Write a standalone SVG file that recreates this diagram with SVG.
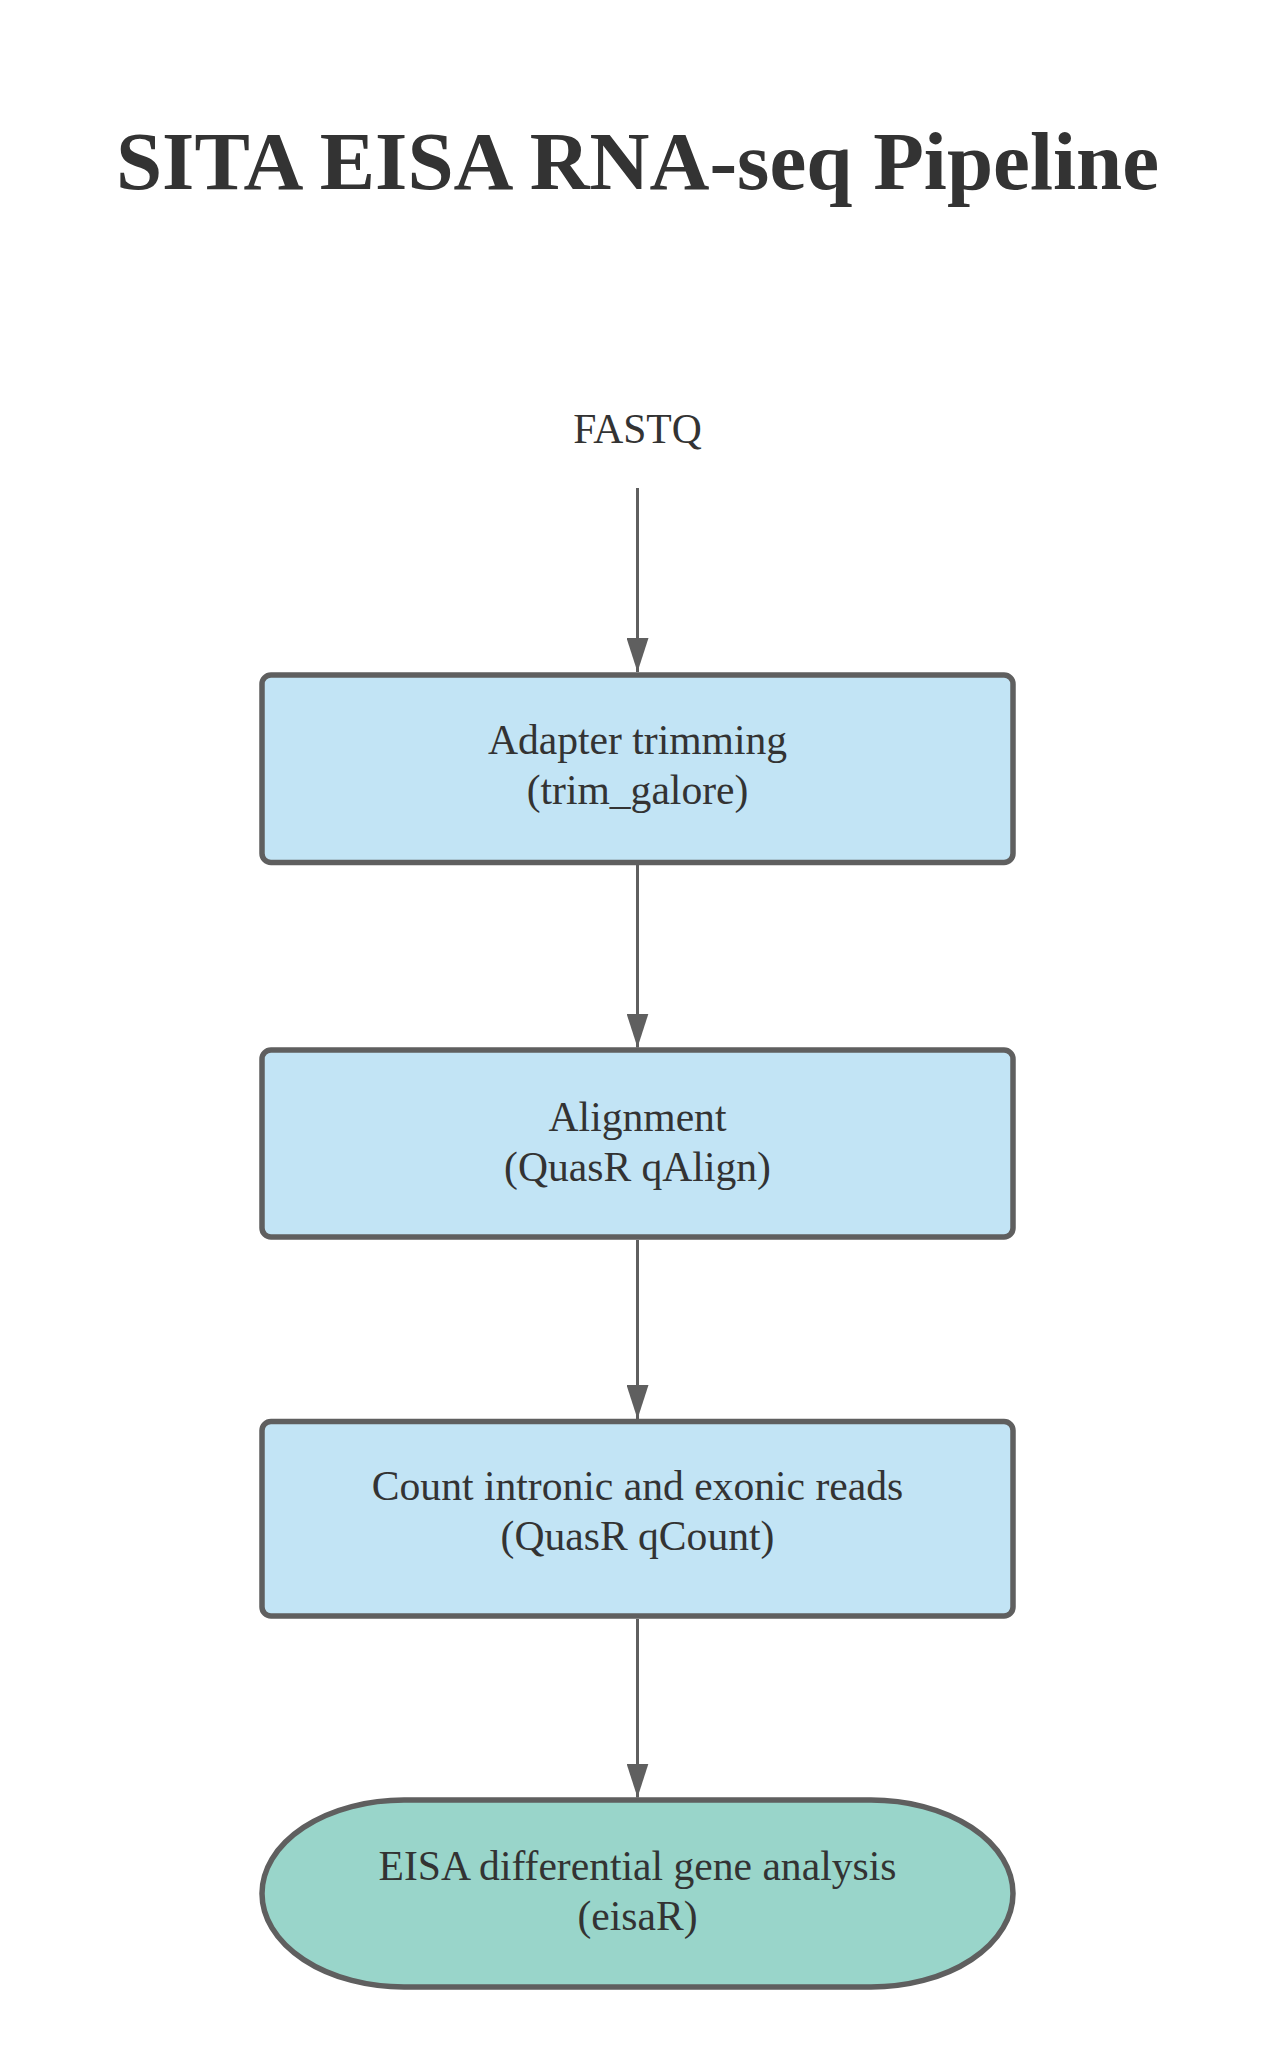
<svg xmlns="http://www.w3.org/2000/svg" width="1275" height="2063" viewBox="0 0 1275 2063">
  <defs>
    <marker id="arrow" markerUnits="userSpaceOnUse" markerWidth="34" markerHeight="22" refX="34" refY="11" orient="auto">
      <path d="M0,0 L34,11 L0,22 Z" fill="#5f5f5f"/>
    </marker>
  </defs>
  <style>
    .title { font-family: "Liberation Serif", "Times New Roman", serif; font-weight: bold; font-size: 83px; fill: #333333; text-anchor: middle; }
    .label { font-family: "Liberation Serif", "Times New Roman", serif; font-size: 41.6px; fill: #333333; text-anchor: middle; }
    .box { fill: #c2e4f5; stroke: #5f5f5f; stroke-width: 5.5; }
    .term { fill: #99d5ca; stroke: #5f5f5f; stroke-width: 5.5; }
    .edge { stroke: #5f5f5f; stroke-width: 3; fill: none; }
  </style>
  <rect width="1275" height="2063" fill="#ffffff"/>
  <text class="title" x="637.5" y="189">SITA EISA RNA-seq Pipeline</text>

  <g id="connectors">
    <line class="edge" x1="637.5" y1="488" x2="637.5" y2="672" marker-end="url(#arrow)"/>
    <line class="edge" x1="637.5" y1="865" x2="637.5" y2="1047.5" marker-end="url(#arrow)"/>
    <line class="edge" x1="637.5" y1="1240" x2="637.5" y2="1419" marker-end="url(#arrow)"/>
    <line class="edge" x1="637.5" y1="1619" x2="637.5" y2="1797.5" marker-end="url(#arrow)"/>
  </g>

  <g id="node-fastq">
    <text class="label" x="637.5" y="443">FASTQ</text>
  </g>

  <g id="node-trim">
    <rect class="box" x="262" y="675" width="751" height="187.5" rx="9" ry="9"/>
    <text class="label" x="637.5" y="754">Adapter trimming</text>
    <text class="label" x="637.5" y="804">(trim_galore)</text>
  </g>

  <g id="node-align">
    <rect class="box" x="262" y="1050" width="751" height="187" rx="9" ry="9"/>
    <text class="label" x="637.5" y="1131">Alignment</text>
    <text class="label" x="637.5" y="1181">(QuasR qAlign)</text>
  </g>

  <g id="node-count">
    <rect class="box" x="262" y="1421.5" width="751" height="194.5" rx="9" ry="9"/>
    <text class="label" x="637.5" y="1500">Count intronic and exonic reads</text>
    <text class="label" x="637.5" y="1550">(QuasR qCount)</text>
  </g>

  <g id="node-eisa">
    <rect class="term" x="262" y="1800" width="751" height="187" rx="142" ry="93.5"/>
    <text class="label" x="637.5" y="1880">EISA differential gene analysis</text>
    <text class="label" x="637.5" y="1930">(eisaR)</text>
  </g>
</svg>
